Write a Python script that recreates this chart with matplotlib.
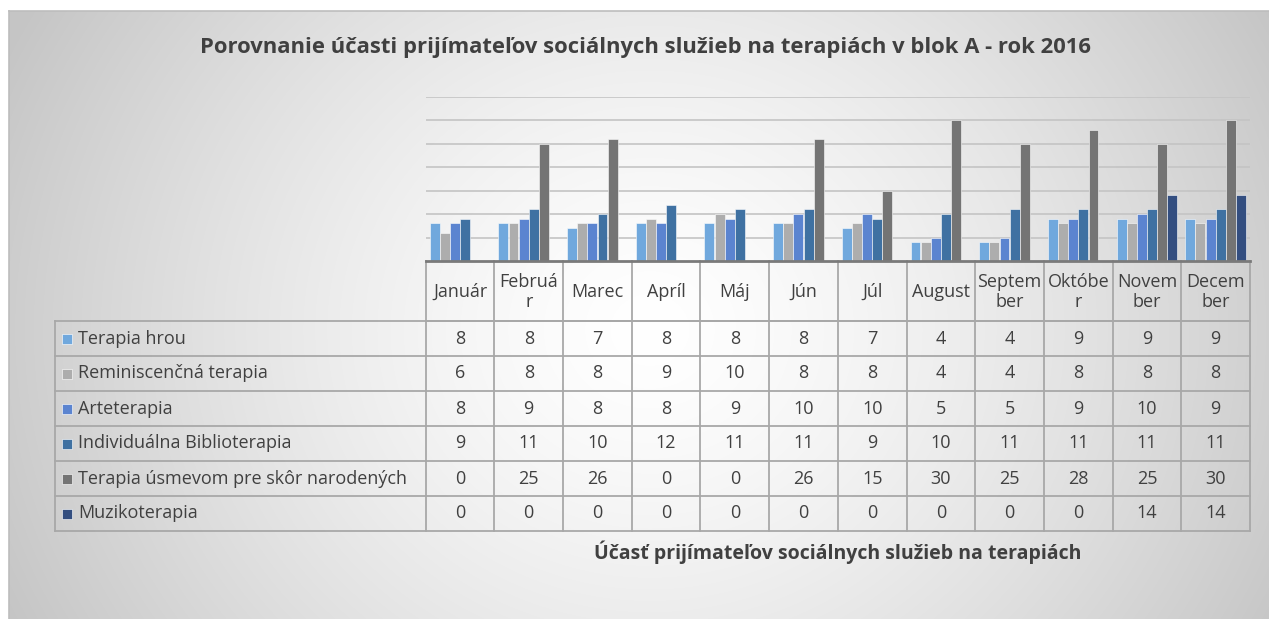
import numpy as np
import matplotlib
matplotlib.use("Agg")
import matplotlib.pyplot as plt
from matplotlib.patches import Rectangle
from matplotlib.lines import Line2D
from matplotlib.transforms import blended_transform_factory

# ---- data -------------------------------------------------------------
months = ["Január", "Február", "Marec", "Apríl", "Máj", "Jún", "Júl",
          "August", "September", "Október", "November", "December"]
header_labels = ["Január", "Februá\nr", "Marec", "Apríl", "Máj", "Jún", "Júl",
                 "August", "Septem\nber", "Októbe\nr", "Novem\nber", "Decem\nber"]
series_names = ["Terapia hrou", "Reminiscenčná terapia", "Arteterapia",
                "Individuálna Biblioterapia", "Terapia úsmevom pre skôr narodených",
                "Muzikoterapia"]
terapia_hrou = [8, 8, 7, 8, 8, 8, 7, 4, 4, 9, 9, 9]
reminiscencna = [6, 8, 8, 9, 10, 8, 8, 4, 4, 8, 8, 8]
arteterapia = [8, 9, 8, 8, 9, 10, 10, 5, 5, 9, 10, 9]
biblioterapia = [9, 11, 10, 12, 11, 11, 9, 10, 11, 11, 11, 11]
usmevom = [0, 25, 26, 0, 0, 26, 15, 30, 25, 28, 25, 30]
muzikoterapia = [0, 0, 0, 0, 0, 0, 0, 0, 0, 0, 14, 14]
series_values = [terapia_hrou, reminiscencna, arteterapia,
                 biblioterapia, usmevom, muzikoterapia]
series_colors = ["#70A8DD", "#ADADAD", "#5B84D0", "#3F71A2", "#747474", "#334E80"]
y_ticks = [5, 10, 15, 20, 25, 30, 35]

title = "Porovnanie účasti prijímateľov sociálnych služieb na terapiách v blok A - rok 2016"
axis_title = "Účasť prijímateľov sociálnych služieb na terapiách"

# ---- figure -----------------------------------------------------------
W, H = 1269, 619
plt.rcParams["font.family"] = ["Open Sans", "DejaVu Sans"]
text_color = "#404040"
table_fs = 13.0
fig = plt.figure(figsize=(W / 100, H / 100), dpi=100)

# full-figure layer working in pixel coordinates (y downwards)
bg = fig.add_axes([0, 0, 1, 1], zorder=0)
bg.set_xlim(0, W)
bg.set_ylim(H, 0)
bg.axis("off")

# radial grey-to-white fill of the chart panel
px0, py0 = 9, 11
xx, yy = np.meshgrid(np.arange(px0, W) + 0.5, np.arange(py0, H) + 0.5)
cx, cy, rad = 650.0, 330.0, 716.0
r = np.clip(np.hypot((xx - cx), (yy - cy) * 1.1) / rad, 0, 1)
v = (255 - 58 * r ** 1.4) / 255.0
img = np.dstack([v, v, v])
bg.imshow(img, extent=(px0, W, H, py0), origin="upper", aspect="auto",
          interpolation="bilinear", zorder=0)
bg.add_line(Line2D([px0, W], [py0, py0], color="#BDBDBD", lw=1.2, zorder=1))
bg.add_line(Line2D([px0, px0], [py0, H], color="#BDBDBD", lw=1.2, zorder=1))

# plot area in pixel coordinates
left_px, right_px = 425.7, 1250.0
top_px, base_px = 96.7, 261.0
ax = fig.add_axes([left_px / W, 1 - base_px / H,
                   (right_px - left_px) / W, (base_px - top_px) / H], zorder=2)
ax.patch.set_alpha(0)
n = len(months)
ax.set_xlim(-0.5, n - 0.5)
ax.set_ylim(0, 35)
for s in ax.spines.values():
    s.set_visible(False)
ax.set_xticks([])
ax.set_yticks([])
for t in y_ticks:
    ax.axhline(t, color="#C4C4C4", lw=1.2, zorder=1)

# clustered columns
gap = 0.77
nser = len(series_values)
bw = 1.0 / (nser + gap)
x = np.arange(n)
for k, (vals, col) in enumerate(zip(series_values, series_colors)):
    ax.bar(x + (k - (nser - 1) / 2) * bw, vals, width=bw * 0.98, color=col,
           edgecolor=(1, 1, 1, 0.55), linewidth=0.7, zorder=3)
ax.axhline(0, color="#7A7A7A", lw=2.0, zorder=4, clip_on=False)

# ---- data table ---------------------------------------------------------
tr = blended_transform_factory(ax.transData, bg.transData)
line_col = "#A8A8A8"
header_bottom = 321.0
row_h = 35.0
row_edges = [header_bottom + i * row_h for i in range(nser + 1)]
table_bottom = row_edges[-1]
label_left = 55.0

# vertical lines between month columns
for i in range(n + 1):
    bg.add_line(Line2D([i - 0.5, i - 0.5], [base_px, table_bottom], transform=tr,
                       color=line_col, lw=1.3, zorder=3, clip_on=False))
# horizontal lines
bg.add_line(Line2D([-0.5, n - 0.5], [header_bottom, header_bottom], transform=tr,
                   color=line_col, lw=1.3, zorder=3, clip_on=False))
for yv in row_edges:
    bg.add_line(Line2D([label_left, right_px], [yv, yv], color=line_col, lw=1.3,
                       zorder=3, clip_on=False))
bg.add_line(Line2D([label_left, label_left], [header_bottom, table_bottom],
                   color=line_col, lw=1.3, zorder=3, clip_on=False))

# month headers
hdr_mid = (base_px + header_bottom) / 2
for i, lab in enumerate(header_labels):
    bg.text(i, hdr_mid + 1, lab, transform=tr, ha="center", va="center",
            fontsize=table_fs, color=text_color, linespacing=1.2, zorder=4)

# series rows
for k, (name, vals, col) in enumerate(zip(series_names, series_values, series_colors)):
    yc = row_edges[k] + row_h / 2
    bg.add_patch(Rectangle((62, yc - 5), 10, 10, facecolor=col,
                           edgecolor=(1, 1, 1, 0.7), lw=0.6, zorder=4))
    bg.text(78, yc, name, ha="left", va="center", fontsize=table_fs,
            color=text_color, zorder=4)
    for i, v_ in enumerate(vals):
        bg.text(i, yc, str(v_), transform=tr, ha="center", va="center",
                fontsize=table_fs, color=text_color, zorder=4)

# titles
bg.text(645, 48, title, ha="center", va="center", fontsize=15.8,
        fontweight="bold", color=text_color, zorder=4)
bg.text((left_px + right_px) / 2, 552, axis_title, ha="center", va="center",
        fontsize=14.0, fontweight="bold", color=text_color, zorder=4)

fig.savefig("out.png", dpi=100)
